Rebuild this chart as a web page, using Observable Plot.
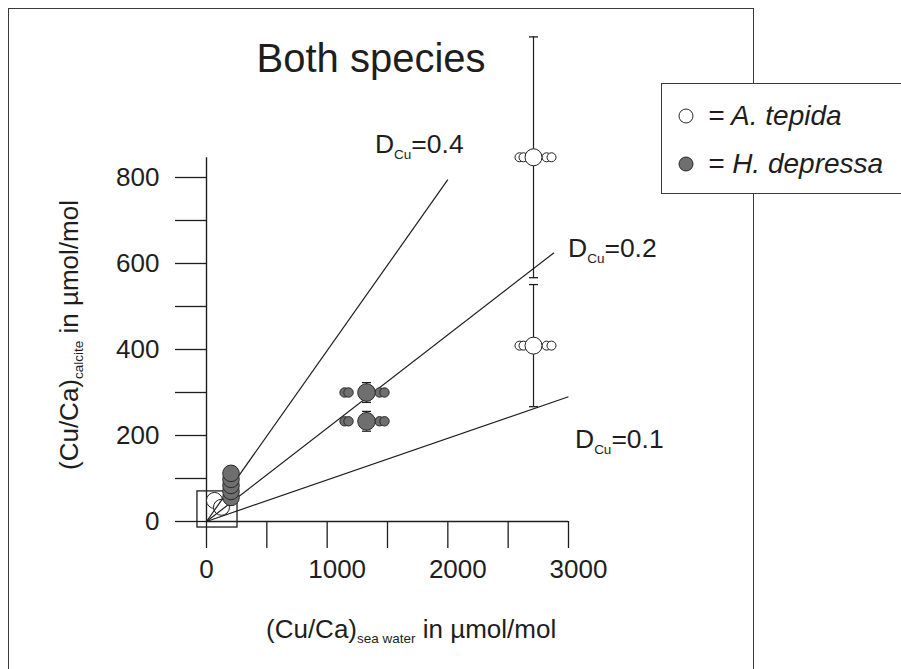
<!DOCTYPE html>
<html><head><meta charset="utf-8">
<script src="https://cdn.jsdelivr.net/npm/d3@7"></script>
<script src="https://cdn.jsdelivr.net/npm/@observablehq/plot@0.6"></script>
<style>
html,body{margin:0;padding:0;background:#fff;overflow:hidden}
#wrap{position:relative;width:901px;height:669px;overflow:hidden;font-family:"Liberation Sans",Arial,Helvetica,sans-serif}
#frame{position:absolute;left:8px;top:8px;width:746px;height:700px;border:1.4px solid #3a3a3a;box-sizing:border-box}
#chart{position:absolute;left:0;top:0}
#legend{position:absolute;left:661px;top:83px;width:260px;height:111px;border:1.4px solid #3a3a3a;background:#fff;box-sizing:border-box}
</style></head>
<body><div id="wrap"><div id="frame"></div><div id="chart"></div><div id="legend"></div></div>
<script>
// ---------- data ----------
const title = "Both species";
const xTicks = [0, 500, 1000, 1500, 2000, 2500, 3000];
const xTickLabels = [0, 1000, 2000, 3000];
const yTicks = [0, 100, 200, 300, 400, 500, 600, 700, 800];
const yTickLabels = [0, 200, 400, 600, 800];
const yAxisTop = 846;

// partition coefficient reference lines (from origin)
const dNames = ["0.4", "0.2", "0.1"];
const dEndX = [2000, 2880, 3000];
const dEndY = [795, 625, 290];
// label anchors (data units)
const dLabelX = [1400, 3000, 3058];
const dLabelY = [856, 614, 170];

// inset box around the low-concentration points
const insetBox = [{x1: -75, x2: 257, y1: -14, y2: 70}];

// A. tepida (open circles)
const tepidaLow = [{x: 66, y: 49}, {x: 124, y: 33}];
const tepidaMean = [{x: 2710, y: 847, err: 280}, {x: 2710, y: 409, err: 142}];
const tepidaRepX = [2594, 2627, 2818, 2859];
const tepidaRepY = [847, 409];

// H. depressa (grey circles)
const depressaLowX = 203;
const depressaLowY = [56, 70, 84, 98, 112];
const depressaMean = [{x: 1326, y: 300, err: 23}, {x: 1326, y: 233, err: 23}];
const depressaRepX = [1144, 1177, 1434, 1475];
const depressaRepY = [300, 233];

// ---------- derived tables ----------
const dLines = dNames.map((d, i) => ({d, x1: 0, y1: 0, x2: dEndX[i], y2: dEndY[i]}));
const tepidaReps = tepidaRepY.flatMap(y => tepidaRepX.map(x => ({x, y})));
const depressaReps = depressaRepY.flatMap(y => depressaRepX.map(x => ({x, y})));
const depressaLow = depressaLowY.map(y => ({x: depressaLowX, y}));
const means = [...tepidaMean, ...depressaMean];
const caps = means.flatMap(d => [{x: d.x, y: d.y - d.err}, {x: d.x, y: d.y + d.err}]);

const capSymbol = {draw(ctx) { ctx.moveTo(-4.5, 0); ctx.lineTo(4.5, 0); }};
const ink = "#1e1e1e";
const grey = "#6f6f6f";

const plot = Plot.plot({
  width: 901, height: 669,
  marginLeft: 206, marginRight: 333, marginTop: 177, marginBottom: 148,
  x: {domain: [0, 3000], label: null},
  y: {domain: [0, 800], label: null},
  style: {fontFamily: "'Liberation Sans', Arial, Helvetica, sans-serif", fontSize: "26px", background: "transparent", color: ink, overflow: "visible"},
  marks: [
    Plot.ruleY([0], {x1: 0, x2: 3000, stroke: ink, strokeWidth: 1.4}),
    Plot.ruleX([0], {y1: 0, y2: yAxisTop, stroke: ink, strokeWidth: 1.4}),
    Plot.axisY({ticks: yTicks, tickSize: 31, tickPadding: 16, strokeWidth: 1.3, stroke: ink,
      tickFormat: d => yTickLabels.includes(d) ? String(d) : "", fontSize: 26, label: null}),
    Plot.axisX({ticks: xTicks, tickSize: 27, strokeWidth: 1.3, stroke: ink, tickFormat: () => "", label: null}),
    Plot.text(xTickLabels.filter(v => v === 0), {x: d => d, text: d => String(d), frameAnchor: "bottom", dy: 56, fontSize: 26, fill: ink}),
    Plot.text(xTickLabels.filter(v => v !== 0), {x: d => d, text: d => String(d), frameAnchor: "bottom", dy: 56, dx: 10, fontSize: 26, fill: ink}),
    // error bars
    Plot.ruleX(means, {x: "x", y1: d => d.y - d.err, y2: d => d.y + d.err, stroke: ink, strokeWidth: 1.2}),
    Plot.dot(caps, {x: "x", y: "y", symbol: capSymbol, stroke: ink, strokeWidth: 1.3, fill: "none"}),
    // open circles
    Plot.dot(tepidaLow, {x: "x", y: "y", r: 8, fill: "white", stroke: ink, strokeWidth: 1}),
    Plot.dot(tepidaReps, {x: "x", y: "y", r: 4.5, fill: "white", stroke: ink, strokeWidth: 1}),
    Plot.dot(tepidaMean, {x: "x", y: "y", r: 8.5, fill: "white", stroke: ink, strokeWidth: 1}),
    // D lines
    Plot.link(dLines, {x1: "x1", y1: "y1", x2: "x2", y2: "y2", stroke: ink, strokeWidth: 1.2}),
    Plot.rect(insetBox, {x1: "x1", x2: "x2", y1: "y1", y2: "y2", fill: "none", stroke: ink, strokeWidth: 1.3}),
    // grey circles
    Plot.dot(depressaLow, {x: "x", y: "y", r: 8.3, fill: grey, stroke: "#2a2a2a", strokeWidth: 1}),
    Plot.dot(depressaReps, {x: "x", y: "y", r: 4.7, fill: grey, stroke: "#2a2a2a", strokeWidth: 1}),
    Plot.dot(depressaMean, {x: "x", y: "y", r: 8.8, fill: grey, stroke: "#2a2a2a", strokeWidth: 1})
  ]
});
document.getElementById("chart").appendChild(plot);

// ---------- annotations ----------
const sx = plot.scale("x"), sy = plot.scale("y");
const svg = d3.select(plot);
const ff = "'Liberation Sans', Arial, Helvetica, sans-serif";

svg.append("text").attr("x", 371).attr("y", 72).attr("text-anchor", "middle")
  .attr("font-size", 40).attr("font-family", ff).attr("fill", ink).text(title);

dNames.forEach((d, i) => {
  const t = svg.append("text")
    .attr("x", sx.apply(dLabelX[i])).attr("y", sy.apply(dLabelY[i])).attr("text-anchor", "start")
    .attr("font-family", ff).attr("font-size", 26.5).attr("fill", ink).style("white-space", "pre");
  t.append("tspan").text("D");
  t.append("tspan").attr("font-size", 13.5).attr("dy", 6).text("Cu");
  t.append("tspan").attr("dy", -6).text("=" + d);
});

function subLabel(g, main, sub, rest) {
  g.attr("font-family", ff).attr("font-size", 26).attr("fill", ink).attr("text-anchor", "start").style("white-space", "pre");
  g.append("tspan").text(main);
  g.append("tspan").attr("font-size", 13.5).attr("dy", 5).text(sub);
  g.append("tspan").attr("dy", -5).text(rest);
}
subLabel(svg.append("text").attr("x", 266).attr("y", 638), "(Cu/Ca)", "sea water", " in µmol/mol");
subLabel(svg.append("text").attr("transform", "translate(78,470) rotate(-90)"), "(Cu/Ca)", "calcite", " in µmol/mol");

// ---------- legend ----------
const legendItems = [{label: "A. tepida", fill: "white"}, {label: "H. depressa", fill: grey}];
const lg = d3.select("#legend").append("svg").attr("width", 260).attr("height", 110);
legendItems.forEach((it, i) => {
  lg.append("circle").attr("cx", 24).attr("cy", 32 + i * 48).attr("r", 7)
    .attr("fill", it.fill).attr("stroke", "#2a2a2a").attr("stroke-width", 1);
  lg.append("text").attr("x", 46).attr("y", 41 + i * 48).attr("font-family", ff)
    .attr("font-size", 28).attr("font-style", "italic").attr("fill", ink).text("= " + it.label);
});
</script>
</body></html>
